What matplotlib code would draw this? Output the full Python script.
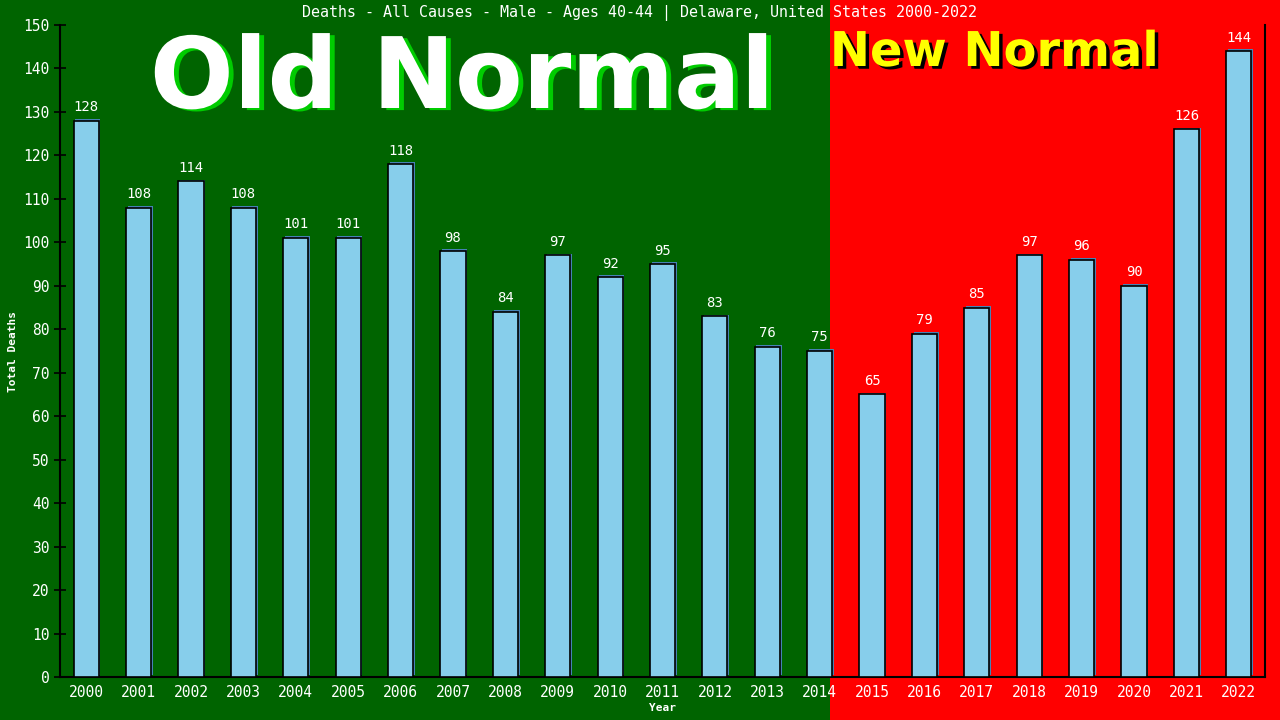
import matplotlib
matplotlib.use("Agg")
import matplotlib.pyplot as plt
import matplotlib.patheffects as pe
from matplotlib.patches import Rectangle

years = list(range(2000, 2023))
deaths = [128, 108, 114, 108, 101, 101, 118, 98, 84, 97, 92, 95, 83, 76, 75,
          65, 79, 85, 97, 96, 90, 126, 144]
split_at = 14.2  # where the "new normal" red starts (data units)

title = "Deaths - All Causes - Male - Ages 40-44 | Delaware, United States 2000-2022"
mono = "DejaVu Sans Mono"

fig = plt.figure(figsize=(12.8, 7.2), dpi=100)
fig.patch.set_facecolor("#006400")
ax = fig.add_axes([60 / 1280, 43 / 720, 1205 / 1280, 652 / 720])
ax.set_facecolor("none")

x = list(range(len(years)))
bars = ax.bar(x, deaths, width=0.48, color="#87ceeb", edgecolor="black", linewidth=1.2, zorder=3)
for b in bars:
    b.set_path_effects([pe.SimplePatchShadow(offset=(1.2, 1.2), shadow_rgbFace="#4682b4", alpha=1),
                        pe.Normal()])

ax.set_xlim(-0.5, len(years) - 0.5)
ax.set_ylim(0, 150)
ax.set_yticks(range(0, 151, 10))
ax.set_xticks(x)
ax.set_xticklabels([str(y) for y in years])

# red background from the split to the right edge of the figure
fig.canvas.draw()
fx = fig.transFigure.inverted().transform(ax.transData.transform((split_at, 0)))[0]
fig.patches.append(Rectangle((fx, 0), 1 - fx, 1, transform=fig.transFigure,
                             facecolor="#ff0000", edgecolor="none", zorder=-1))

for xi, v in zip(x, deaths):
    ax.text(xi, v + 1.5, str(v), ha="center", va="bottom", color="white",
            fontsize=10, family=mono, zorder=4)

ax.spines["top"].set_visible(False)
for side in ["left", "bottom", "right"]:
    ax.spines[side].set_color("black")
    ax.spines[side].set_linewidth(1.5)

ax.tick_params(axis="y", direction="inout", length=8, width=1.2, color="black",
               labelcolor="white", labelsize=10.5)
ax.tick_params(axis="x", length=0, labelcolor="white", labelsize=10.5, pad=6)
for lab in ax.get_xticklabels() + ax.get_yticklabels():
    lab.set_family(mono)

ax.set_xlabel("Year", color="white", family=mono, fontsize=8, fontweight="bold", labelpad=2)
ax.set_ylabel("Total Deaths", color="white", family=mono, fontsize=8, fontweight="bold", labelpad=4)

fig.text(0.5, 1 - 13 / 720, title, ha="center", va="center", color="white",
         family=mono, fontsize=10.8)

fig.text(462 / 1280, 1 - 108 / 720, "Old Normal", ha="center", va="baseline",
         color="white", family="DejaVu Sans", fontweight="bold", fontsize=71,
         path_effects=[pe.withSimplePatchShadow(offset=(3.5, -1.5), shadow_rgbFace="#00cc00", alpha=1)])
fig.text(994 / 1280, 1 - 66 / 720, "New Normal", ha="center", va="baseline",
         color="#ffff00", family="DejaVu Sans", fontweight="bold", fontsize=34.5,
         path_effects=[pe.withSimplePatchShadow(offset=(2.5, -2), shadow_rgbFace="black", alpha=1)])

fig.savefig("out.png", dpi=100, facecolor=fig.get_facecolor())
